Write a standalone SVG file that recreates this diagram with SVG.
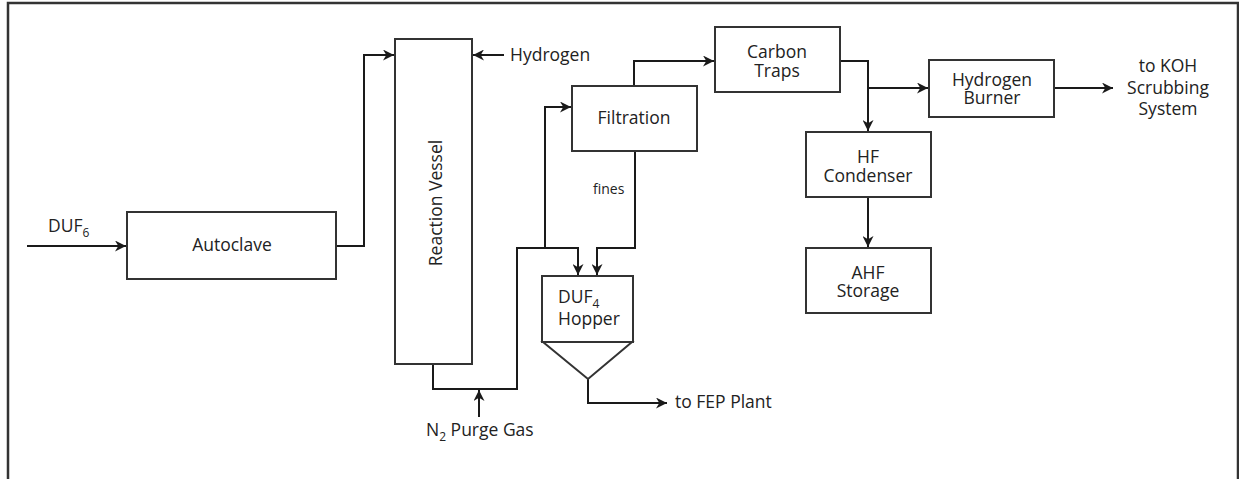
<svg xmlns="http://www.w3.org/2000/svg" width="1239" height="479" viewBox="0 0 1239 479">
<defs>
<style>
.box{fill:#fff;stroke:#333;stroke-width:2}
.ln{fill:none;stroke:#1a1a1a;stroke-width:2}
.t{font-family:"Open Sans","Liberation Sans",sans-serif;font-size:17.5px;fill:#222;text-anchor:middle}
.tl{font-family:"Open Sans","Liberation Sans",sans-serif;font-size:17.5px;fill:#222}
.sub{font-size:12px}
</style>
<marker id="ah" viewBox="0 0 10 10" refX="10" refY="5" markerWidth="11" markerHeight="11" markerUnits="userSpaceOnUse" orient="auto">
<path d="M0,0 L10,5 L0,10 L3,5 Z" fill="#1a1a1a"/>
</marker>
</defs>
<rect width="1239" height="479" fill="#fff"/>
<path d="M8,479 V3 H1238 V479" fill="none" stroke="#333" stroke-width="2.5"/>

<g id="connectors">
<path class="ln" d="M27,246 H126" marker-end="url(#ah)"/>
<path class="ln" d="M336,246 H364 V55 H394" marker-end="url(#ah)"/>
<path class="ln" d="M504,55 H473" marker-end="url(#ah)"/>
<path class="ln" d="M433,364 V389 H517 V248 H578 V275" marker-end="url(#ah)"/>
<path class="ln" d="M545,248 V107 H571" marker-end="url(#ah)"/>
<path class="ln" d="M479,417 V390" marker-end="url(#ah)"/>
<path class="ln" d="M634,86 V61 H714" marker-end="url(#ah)"/>
<path class="ln" d="M635,151 V248 H597 V275" marker-end="url(#ah)"/>
<path class="ln" d="M588,379 V403 H667" marker-end="url(#ah)"/>
<path class="ln" d="M840,61 H868 V131" marker-end="url(#ah)"/>
<path class="ln" d="M868,88 H928" marker-end="url(#ah)"/>
<path class="ln" d="M1054,88 H1113" marker-end="url(#ah)"/>
<path class="ln" d="M868,197 V247" marker-end="url(#ah)"/>
</g>

<g id="labels">
<text class="tl" x="48" y="232">DUF<tspan class="sub" dy="5">6</tspan></text>
<text class="tl" x="510" y="61">Hydrogen</text>
<text class="tl" x="426" y="436">N<tspan class="sub" dy="5">2</tspan><tspan dy="-5"> Purge Gas</tspan></text>
<text class="tl" x="593" y="194" style="font-size:14px">fines</text>
<text class="tl" x="675" y="408">to FEP Plant</text>
<text class="t" x="1168" y="72">to KOH</text>
<text class="t" x="1168" y="94">Scrubbing</text>
<text class="t" x="1168" y="115">System</text>
</g>

<g id="autoclave">
<rect class="box" x="127" y="212" width="209" height="67"/>
<text class="t" x="232" y="251">Autoclave</text>
</g>
<g id="reaction-vessel">
<rect class="box" x="395" y="39" width="77" height="325"/>
<text class="t" transform="translate(442,203) rotate(-90)">Reaction Vessel</text>
</g>
<g id="filtration">
<rect class="box" x="572" y="86" width="125" height="65"/>
<text class="t" x="634" y="124">Filtration</text>
</g>
<g id="carbon-traps">
<rect class="box" x="715" y="27" width="125" height="65"/>
<text class="t" x="777" y="58">Carbon</text>
<text class="t" x="777" y="77">Traps</text>
</g>
<g id="duf4-hopper">
<rect class="box" x="542" y="276" width="91" height="66"/>
<path class="box" d="M543,342 L632,342 L588,379 Z"/>
<text class="tl" x="558" y="303">DUF<tspan class="sub" dy="5">4</tspan></text>
<text class="tl" x="558" y="325">Hopper</text>
</g>
<g id="hydrogen-burner">
<rect class="box" x="929" y="60" width="125" height="57"/>
<text class="t" x="992" y="86">Hydrogen</text>
<text class="t" x="992" y="104">Burner</text>
</g>
<g id="hf-condenser">
<rect class="box" x="806" y="132" width="125" height="65"/>
<text class="t" x="868" y="163">HF</text>
<text class="t" x="868" y="182">Condenser</text>
</g>
<g id="ahf-storage">
<rect class="box" x="806" y="248" width="125" height="65"/>
<text class="t" x="868" y="279">AHF</text>
<text class="t" x="868" y="297">Storage</text>
</g>
</svg>
